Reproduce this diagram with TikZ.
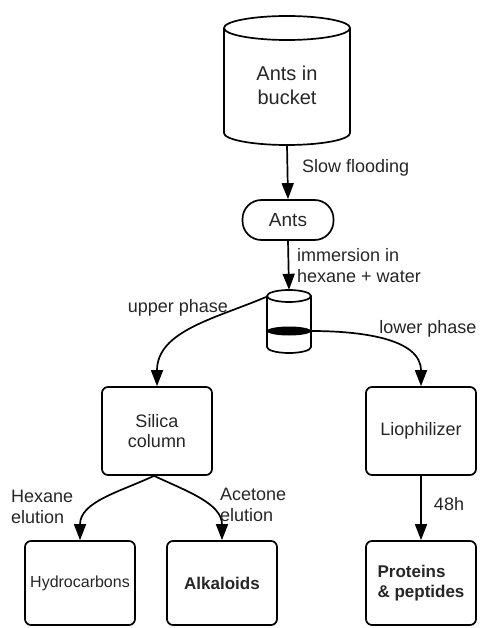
\documentclass[tikz,border=0pt]{standalone}
\usepackage{fontspec}
\setmainfont{Liberation Sans}
\usetikzlibrary{arrows.meta}
\begin{document}
\begin{tikzpicture}[x=1pt,y=1pt,
  line/.style={line width=1.7pt},
  arr/.style={line width=1.7pt,-{Triangle[length=16pt,width=12pt]}},
  box/.style={draw,line width=1.7pt,rounded corners=6pt,minimum width=110pt,align=center,text=black!85,font=\fontsize{18}{20}\selectfont},
  lbl/.style={align=left,inner sep=0pt,text=black!85,font=\fontsize{18}{21}\selectfont}]
\useasboundingbox (0,0) rectangle (479,-628);
% bucket
\node[align=center,text=black!85,minimum width=126pt,minimum height=120pt,inner sep=0pt,font=\fontsize{20}{24}\selectfont] (bucket) at (287,-85) {Ants in\\bucket};
\draw[line] (224,-28) -- (224,-133) arc (180:360:63 and 12) -- (350,-28);
\draw[line] (287,-28) ellipse (63 and 12);
\node[draw,line width=1.7pt,rounded corners=19pt,minimum width=91pt,minimum height=40pt,text=black!85,font=\fontsize{19}{20}\selectfont] (ants) at (288,-220) {Ants};
% jar with the two phases
\node[minimum width=44pt,minimum height=63pt,inner sep=0pt] (jar) at (289,-321.5) {};
\draw[line] (267,-296) -- (267,-347) arc (180:360:22 and 6) -- (311,-296);
\draw[line] (289,-296) ellipse (22 and 6);
\fill (289,-331) ellipse (22 and 4.5);
\coordinate (jartop) at (266,-297);
\coordinate (layer) at (311,-331);
% boxes
\node[box,minimum height=88pt] (silica) at (157,-431) {Silica\\column};
\node[box,minimum height=88pt] (lio) at (421,-431) {Liophilizer};
\node[box,minimum height=84pt,font=\fontsize{16}{18}\selectfont] (hydro) at (80,-583) {Hydrocarbons};
\node[box,minimum height=84pt,font=\bfseries\fontsize{17}{19}\selectfont] (alka) at (222,-583) {Alkaloids};
\node[box,minimum height=84pt,align=left,font=\bfseries\fontsize{17}{20}\selectfont] (prot) at (421,-583) {Proteins\\\& peptides};
% connectors
\draw[arr] (bucket.south) -- (ants.north);
\draw[arr] (ants.south) -- (jar.north);
\draw[arr] (jartop) to[out=203,in=90] (silica.north);
\draw[arr] (layer) to[out=0,in=90] (lio.north);
\draw[arr] ([xshift=-3pt]silica.south) to[out=205,in=90] (hydro.north);
\draw[arr] ([xshift=-3pt]silica.south) to[out=-25,in=90] (alka.north);
\draw[arr] (lio.south) -- (prot.north);
% labels
\node[lbl,anchor=west] (flood) at (302,-168) {Slow flooding};
\node[lbl,anchor=west] (immerse) at (297,-266) {immersion in\\hexane + water};
\node[lbl] (upper) at (178,-308) {upper phase};
\node[lbl] (lower) at (428,-329) {lower phase};
\node[lbl,anchor=west] (hexel) at (11,-507) {Hexane\\elution};
\node[lbl,anchor=west] (aceel) at (220,-505) {Acetone\\elution};
\node[lbl] (hours) at (449,-504) {48h};
\end{tikzpicture}
\end{document}
